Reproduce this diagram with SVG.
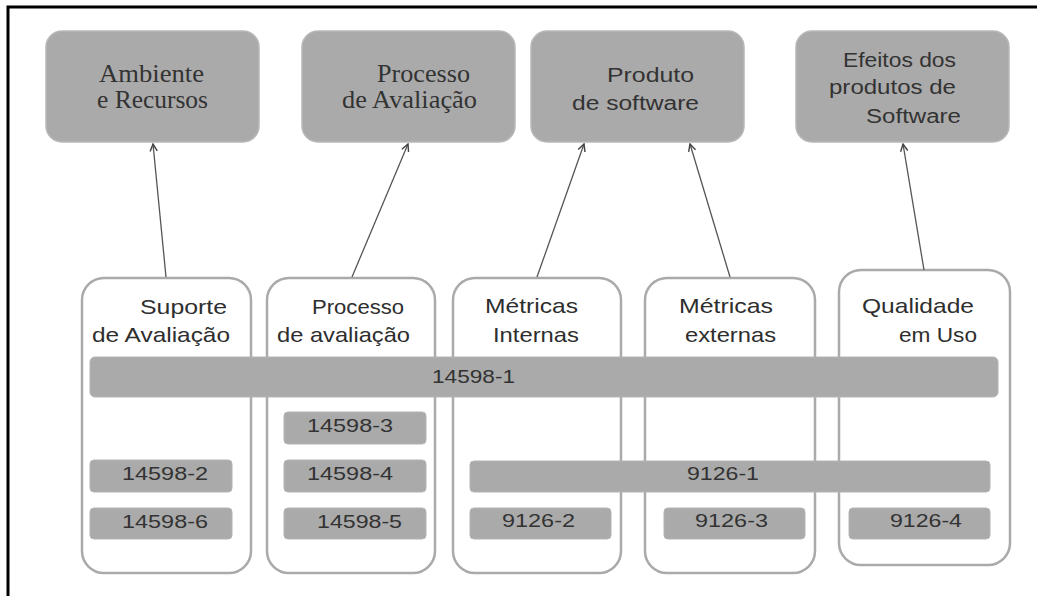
<svg xmlns="http://www.w3.org/2000/svg" width="1037" height="596" viewBox="0 0 1037 596">
<defs>
<marker id="arr" viewBox="0 0 10 10" refX="9" refY="5" markerWidth="9" markerHeight="9" markerUnits="userSpaceOnUse" orient="auto">
<path d="M1,1 L9,5 L1,9" fill="none" stroke="#444" stroke-width="1.6"/>
</marker>
</defs>
<style>
.top{fill:#aaaaaa;stroke:#b8b8b8;stroke-width:1.5}
.col{fill:#ffffff;stroke:#aaaaaa;stroke-width:2.5}
.bar{fill:#aaaaaa;stroke:#b4b4b4;stroke-width:1}
.serif{font-family:"Liberation Serif","Times New Roman",serif;font-size:25px;fill:#333333}
.sans{font-family:"Liberation Sans",Arial,sans-serif;font-size:20px;fill:#333333}
.hd{font-family:"Liberation Sans",Arial,sans-serif;font-size:21px;fill:#2e2e2e}
.num{font-family:"Liberation Sans",Arial,sans-serif;font-size:18px;fill:#333333}
.con{fill:none;stroke:#555555;stroke-width:1.3}
</style>
<rect x="0" y="0" width="1037" height="596" fill="#ffffff"/>
<path d="M8,596 L8,7 L1037,7" fill="none" stroke="#000000" stroke-width="3"/>

<g id="top-ambiente">
<rect class="top" x="46" y="31" width="213" height="111" rx="16"/>
<text class="serif" x="99" y="82" textLength="105" lengthAdjust="spacingAndGlyphs">Ambiente</text>
<text class="serif" x="97" y="108" textLength="111" lengthAdjust="spacingAndGlyphs">e Recursos</text>
</g>
<g id="top-processo">
<rect class="top" x="302" y="31" width="213" height="111" rx="16"/>
<text class="serif" x="377" y="82" textLength="93" lengthAdjust="spacingAndGlyphs">Processo</text>
<text class="serif" x="342" y="108" textLength="135" lengthAdjust="spacingAndGlyphs">de Avaliação</text>
</g>
<g id="top-produto">
<rect class="top" x="531" y="31" width="213" height="111" rx="16"/>
<text class="sans" x="607" y="82" textLength="87" lengthAdjust="spacingAndGlyphs">Produto</text>
<text class="sans" x="572" y="110" textLength="127" lengthAdjust="spacingAndGlyphs">de software</text>
</g>
<g id="top-efeitos">
<rect class="top" x="796" y="31" width="213" height="111" rx="16"/>
<text class="sans" x="843" y="67" textLength="113" lengthAdjust="spacingAndGlyphs">Efeitos dos</text>
<text class="sans" x="829" y="94" textLength="127" lengthAdjust="spacingAndGlyphs">produtos de</text>
<text class="sans" x="866" y="123" textLength="95" lengthAdjust="spacingAndGlyphs">Software</text>
</g>

<g id="col-suporte">
<rect class="col" x="82" y="278" width="169" height="295" rx="22"/>
<text class="hd" x="140" y="314" textLength="87" lengthAdjust="spacingAndGlyphs">Suporte</text>
<text class="hd" x="92" y="342" textLength="138" lengthAdjust="spacingAndGlyphs">de Avaliação</text>
</g>
<g id="col-processo">
<rect class="col" x="267" y="278" width="168" height="295" rx="22"/>
<text class="hd" x="312" y="314" textLength="92" lengthAdjust="spacingAndGlyphs">Processo</text>
<text class="hd" x="277" y="342" textLength="133" lengthAdjust="spacingAndGlyphs">de avaliação</text>
</g>
<g id="col-internas">
<rect class="col" x="453" y="278" width="168" height="295" rx="22"/>
<text class="hd" x="485" y="313" textLength="93" lengthAdjust="spacingAndGlyphs">Métricas</text>
<text class="hd" x="493" y="342" textLength="86" lengthAdjust="spacingAndGlyphs">Internas</text>
</g>
<g id="col-externas">
<rect class="col" x="645" y="278" width="170" height="295" rx="22"/>
<text class="hd" x="679" y="313" textLength="94" lengthAdjust="spacingAndGlyphs">Métricas</text>
<text class="hd" x="685" y="342" textLength="91" lengthAdjust="spacingAndGlyphs">externas</text>
</g>
<g id="col-uso">
<rect class="col" x="839" y="270" width="171" height="295" rx="22"/>
<text class="hd" x="862" y="313" textLength="112" lengthAdjust="spacingAndGlyphs">Qualidade</text>
<text class="hd" x="899" y="342" textLength="78" lengthAdjust="spacingAndGlyphs">em Uso</text>
</g>

<g id="bar-14598-1">
<rect class="bar" x="90" y="357" width="908" height="40" rx="5"/>
<text class="num" x="432" y="383" textLength="83" lengthAdjust="spacingAndGlyphs">14598-1</text>
</g>
<g id="bar-14598-3">
<rect class="bar" x="284" y="412" width="142" height="32" rx="4"/>
<text class="num" x="307" y="432" textLength="86" lengthAdjust="spacingAndGlyphs">14598-3</text>
</g>
<g id="bar-14598-2">
<rect class="bar" x="90" y="460" width="142" height="32" rx="4"/>
<text class="num" x="122" y="480" textLength="86" lengthAdjust="spacingAndGlyphs">14598-2</text>
</g>
<g id="bar-14598-4">
<rect class="bar" x="284" y="460" width="142" height="32" rx="4"/>
<text class="num" x="307" y="480" textLength="86" lengthAdjust="spacingAndGlyphs">14598-4</text>
</g>
<g id="bar-9126-1">
<rect class="bar" x="470" y="461" width="520" height="31" rx="4"/>
<text class="num" x="687" y="480" textLength="72" lengthAdjust="spacingAndGlyphs">9126-1</text>
</g>
<g id="bar-14598-6">
<rect class="bar" x="90" y="508" width="142" height="31" rx="4"/>
<text class="num" x="122" y="528" textLength="86" lengthAdjust="spacingAndGlyphs">14598-6</text>
</g>
<g id="bar-14598-5">
<rect class="bar" x="284" y="508" width="142" height="31" rx="4"/>
<text class="num" x="317" y="528" textLength="85" lengthAdjust="spacingAndGlyphs">14598-5</text>
</g>
<g id="bar-9126-2">
<rect class="bar" x="470" y="508" width="141" height="31" rx="4"/>
<text class="num" x="502" y="527" textLength="73" lengthAdjust="spacingAndGlyphs">9126-2</text>
</g>
<g id="bar-9126-3">
<rect class="bar" x="664" y="508" width="141" height="31" rx="4"/>
<text class="num" x="695" y="527" textLength="73" lengthAdjust="spacingAndGlyphs">9126-3</text>
</g>
<g id="bar-9126-4">
<rect class="bar" x="849" y="508" width="141" height="31" rx="4"/>
<text class="num" x="890" y="527" textLength="72" lengthAdjust="spacingAndGlyphs">9126-4</text>
</g>

<g id="connectors">
<line class="con" x1="166" y1="277" x2="153" y2="144" marker-end="url(#arr)"/>
<line class="con" x1="352" y1="277" x2="408" y2="144" marker-end="url(#arr)"/>
<line class="con" x1="537" y1="277" x2="584" y2="144" marker-end="url(#arr)"/>
<line class="con" x1="730" y1="277" x2="690" y2="144" marker-end="url(#arr)"/>
<line class="con" x1="924" y1="270" x2="903" y2="144" marker-end="url(#arr)"/>
</g>
</svg>
